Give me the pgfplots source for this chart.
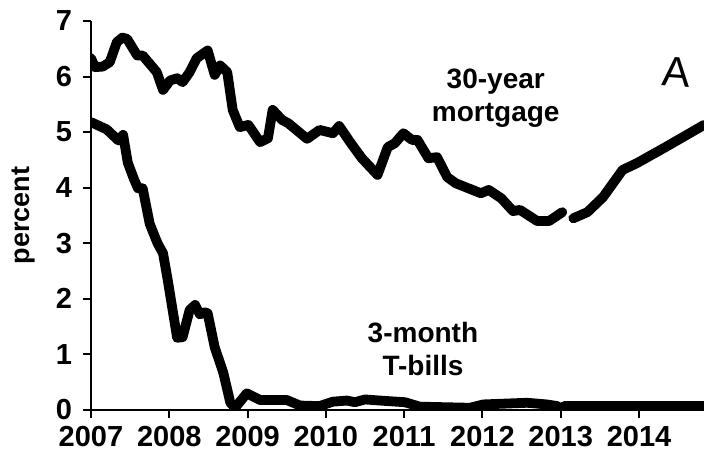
\documentclass[border=0pt]{standalone}
\usepackage{fontspec}
\setmainfont{Liberation Sans}
\usepackage{pgfplots}
\pgfplotsset{compat=1.18}
\begin{document}
\begin{tikzpicture}
\begin{axis}[
  scale only axis,
  width=306.5pt, height=194.5pt,
  xmin=2007, xmax=2014.83,
  ymin=0, ymax=7,
  axis x line*=bottom, axis y line*=left,
  axis line style={-, line width=1pt},
  xtick={2007,2008,2009,2010,2011,2012,2013,2014},
  xticklabels={2007,2008,2009,2010,2011,2012,2013,2014},
  ytick={0,1,2,3,4,5,6,7},
  tick align=outside,
  major tick length=4pt,
  tick style={line width=1pt, black},
  /pgf/number format/assume math mode=true,
  tick label style={font=\bfseries\fontsize{14.5}{16}\selectfont},
  xticklabel style={yshift=-0.5pt},
  yticklabel style={xshift=-2pt},
  clip=true,
]
\addplot[black, line width=4.9pt, line join=round, line cap=round] coordinates {
(2007.00,6.33) (2007.05,6.17) (2007.15,6.18) (2007.24,6.26) (2007.33,6.62)
(2007.40,6.70) (2007.46,6.68) (2007.59,6.38) (2007.66,6.38) (2007.84,6.08)
(2007.92,5.76) (2008.01,5.93) (2008.10,5.97) (2008.17,5.90) (2008.26,6.08)
(2008.35,6.33) (2008.49,6.47) (2008.58,6.03) (2008.65,6.20) (2008.74,6.08)
(2008.81,5.40) (2008.90,5.09) (2009.01,5.13) (2009.16,4.82) (2009.26,4.89)
(2009.32,5.40) (2009.44,5.22) (2009.52,5.16) (2009.76,4.88) (2009.92,5.04)
(2010.09,4.98) (2010.17,5.11) (2010.31,4.82) (2010.46,4.53) (2010.66,4.23)
(2010.79,4.73) (2010.88,4.80) (2010.99,4.98) (2011.10,4.86) (2011.17,4.86)
(2011.31,4.53) (2011.42,4.55) (2011.55,4.19) (2011.66,4.08) (2011.98,3.90)
(2012.08,3.96) (2012.24,3.81) (2012.39,3.58) (2012.48,3.60) (2012.70,3.40)
(2012.85,3.40) (2013.02,3.56)
};
\addplot[black, line width=4.9pt, line join=round, line cap=round] coordinates {
(2013.16,3.45) (2013.34,3.56) (2013.54,3.83) (2013.79,4.32) (2013.97,4.44)
(2014.35,4.74) (2014.83,5.13)
};
\addplot[black, line width=4.9pt, line join=round, line cap=round] coordinates {
(2007.00,5.18) (2007.20,5.05) (2007.35,4.85) (2007.41,4.95) (2007.47,4.45)
(2007.55,4.15) (2007.60,3.99) (2007.66,3.99) (2007.75,3.35) (2007.85,3.00)
(2007.92,2.82) (2007.98,2.34) (2008.10,1.30) (2008.17,1.31) (2008.26,1.80)
(2008.33,1.89) (2008.39,1.72) (2008.45,1.76) (2008.49,1.74) (2008.58,1.13)
(2008.69,0.67) (2008.78,0.13) (2008.84,0.04) (2008.99,0.30) (2009.16,0.18)
(2009.50,0.18) (2009.67,0.08) (2009.92,0.07) (2010.09,0.15) (2010.27,0.17)
(2010.37,0.14) (2010.50,0.19) (2010.69,0.17) (2011.01,0.14) (2011.20,0.06)
(2011.84,0.04) (2012.01,0.10) (2012.57,0.13) (2012.82,0.10) (2012.96,0.07)
};
\addplot[black, line width=4.9pt, line join=round, line cap=round] coordinates {
(2013.05,0.08) (2013.50,0.08) (2014.00,0.08) (2014.50,0.08) (2014.83,0.08)
};
\node[font=\bfseries\fontsize{14}{16.5}\selectfont, align=center] at (axis cs:2012.17,5.61) {30-year\\mortgage};
\node[font=\bfseries\fontsize{14}{16.5}\selectfont, align=center] at (axis cs:2011.24,1.10) {3-month\\T-bills};
\node[font=\fontsize{21}{21}\selectfont, rotate=-4] at (axis cs:2014.48,6.08) {A};
\coordinate (O) at (rel axis cs:0,0);
\coordinate (L) at (rel axis cs:0,0.5);
\end{axis}
\node[rotate=90, font=\bfseries\fontsize{13.5}{15}\selectfont] at ([xshift=-34pt]L) {percent};
\pgfresetboundingbox
\path ([shift={(-45.5pt,-22pt)}]O) rectangle ([shift={(306.5pt,205pt)}]O);
\end{tikzpicture}
\end{document}
